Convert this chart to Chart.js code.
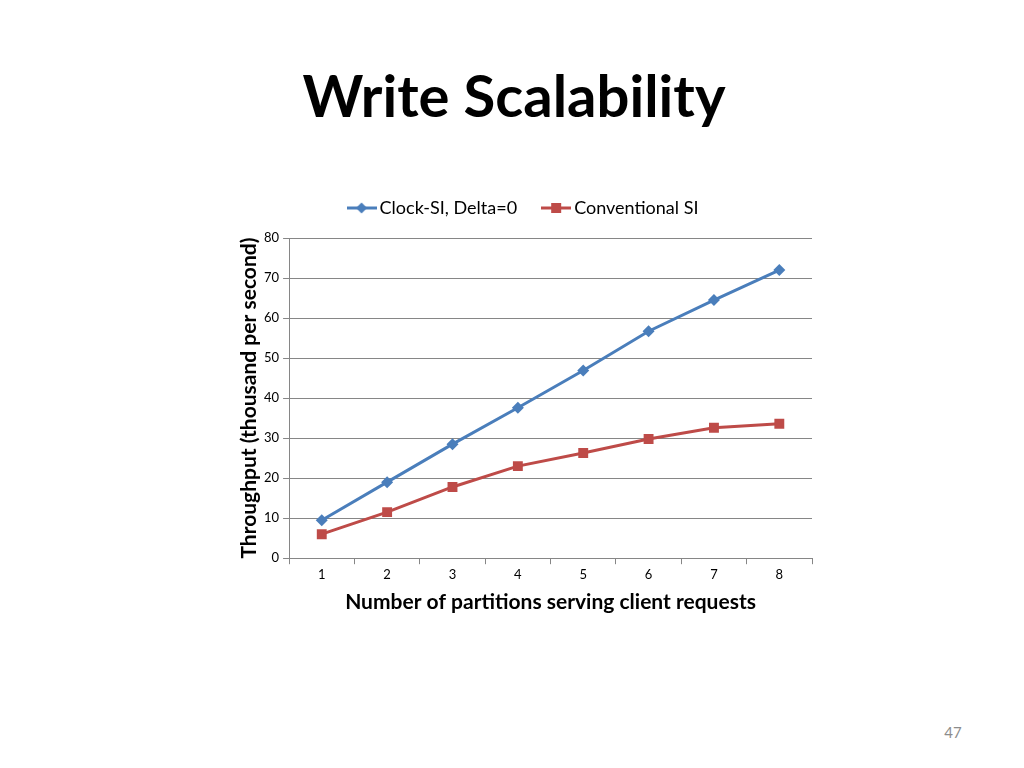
<!doctype html>
<html lang="en">
<head>
  <meta charset="utf-8" />
  <title>Write Scalability</title>
  <style>
    body { margin:0; width:1024px; height:768px; background:#fff; position:relative; overflow:hidden; font-family:Lato, "DejaVu Sans", sans-serif; }
    #title { position:absolute; left:0; width:1024px; top:60px; text-align:center; font-size:58px; font-weight:bold; color:#000; margin:0; padding-left:2px; }
    #page { position:absolute; left:933px; top:723px; width:40px; text-align:center; font-size:15px; color:#8c8c8c; }
    #canva { position:absolute; left:239px; top:169px; width:590px; height:450px; }
  </style>
</head>
<body>
<h1 id="title">Write Scalability</h1>
<div id="canva"><canvas id="myChart"></canvas></div>
<div id="page">47</div>
<script src="https://cdn.jsdelivr.net/npm/chart.js@4"></script>
<script>
var partitions = ['1', '2', '3', '4', '5', '6', '7', '8'];
var clockSI = [9.5, 19.0, 28.5, 37.6, 46.9, 56.7, 64.5, 72.0];
var conventionalSI = [6.0, 11.5, 17.8, 23.0, 26.3, 29.8, 32.6, 33.6];
var yTicks = [0, 10, 20, 30, 40, 50, 60, 70, 80];

var blue = '#4A7EBB';
var red = '#BE4B48';

// legend icon: short line with the marker in the middle
function legendIcon(color, shape) {
  var c = document.createElement('canvas');
  c.width = 30; c.height = 14;
  var g = c.getContext('2d');
  g.strokeStyle = color; g.lineWidth = 3;
  g.beginPath(); g.moveTo(0, 7); g.lineTo(30, 7); g.stroke();
  g.fillStyle = color;
  if (shape == 'diamond') {
    g.beginPath(); g.moveTo(15, 1.5); g.lineTo(20.5, 7); g.lineTo(15, 12.5); g.lineTo(9.5, 7); g.closePath(); g.fill();
  } else {
    g.fillRect(10, 2, 10, 10);
  }
  return c;
}

// extra space under the legend
var legendGap = {
  id: 'legendGap',
  beforeInit: function (chart) {
    var fit = chart.legend.fit;
    chart.legend.fit = function () {
      fit.bind(chart.legend)();
      this.height += 11;
    };
  }
};

function Draw() {
  const ctx = document.getElementById('myChart');
  new Chart(ctx, {
    type: 'line',
    data: {
      labels: partitions,
      datasets: [{
        label: 'Clock-SI, Delta=0',
        data: clockSI,
        borderColor: blue,
        backgroundColor: blue,
        borderWidth: 3,
        pointStyle: 'rectRot',
        pointRadius: 6,
        pointBorderWidth: 0,
        tension: 0
      }, {
        label: 'Conventional SI',
        data: conventionalSI,
        borderColor: red,
        backgroundColor: red,
        borderWidth: 3,
        pointStyle: 'rect',
        pointRadius: 7,
        pointBorderWidth: 0,
        tension: 0
      }]
    },
    options: {
      responsive: true,
      maintainAspectRatio: false,
      animation: false,
      layout: { padding: { left: 0, right: 17, top: 0, bottom: 0 } },
      plugins: {
        legend: {
          position: 'top',
          labels: {
            usePointStyle: true,
            color: '#000',
            font: { family: 'Lato', size: 18 },
            padding: 30,
            generateLabels: function (chart) {
              var icons = [legendIcon(blue, 'diamond'), legendIcon(red, 'square')];
              return chart.data.datasets.map(function (ds, i) {
                return { text: ds.label, pointStyle: icons[i], fillStyle: ds.borderColor, strokeStyle: ds.borderColor, lineWidth: 0, datasetIndex: i, fontColor: '#000' };
              });
            }
          }
        },
        tooltip: { enabled: false }
      },
      scales: {
        x: {
          offset: true,
          grid: { display: true, drawOnChartArea: false, drawTicks: true, tickLength: 6, offset: true, color: '#868686' },
          border: { color: '#868686', width: 1 },
          ticks: { color: '#000', font: { family: 'Lato', size: 13 }, padding: 3 },
          title: { display: true, text: 'Number of partitions serving client requests', color: '#000', font: { family: 'Lato', size: 21, weight: 'bold' }, padding: { top: 4 } }
        },
        y: {
          min: 0, max: 80,
          afterBuildTicks: function (axis) { axis.ticks = yTicks.map(function (v) { return { value: v }; }); },
          grid: { color: '#868686', tickLength: 6 },
          border: { color: '#868686', width: 1 },
          ticks: { color: '#000', font: { family: 'Lato', size: 13 }, padding: 4 },
          title: { display: true, text: 'Throughput (thousand per second)', color: '#000', font: { family: 'Lato', size: 21, weight: 'bold', lineHeight: 1 }, padding: 0 }
        }
      }
    },
    plugins: [legendGap]
  });
}
Draw();
</script>
</body>
</html>
